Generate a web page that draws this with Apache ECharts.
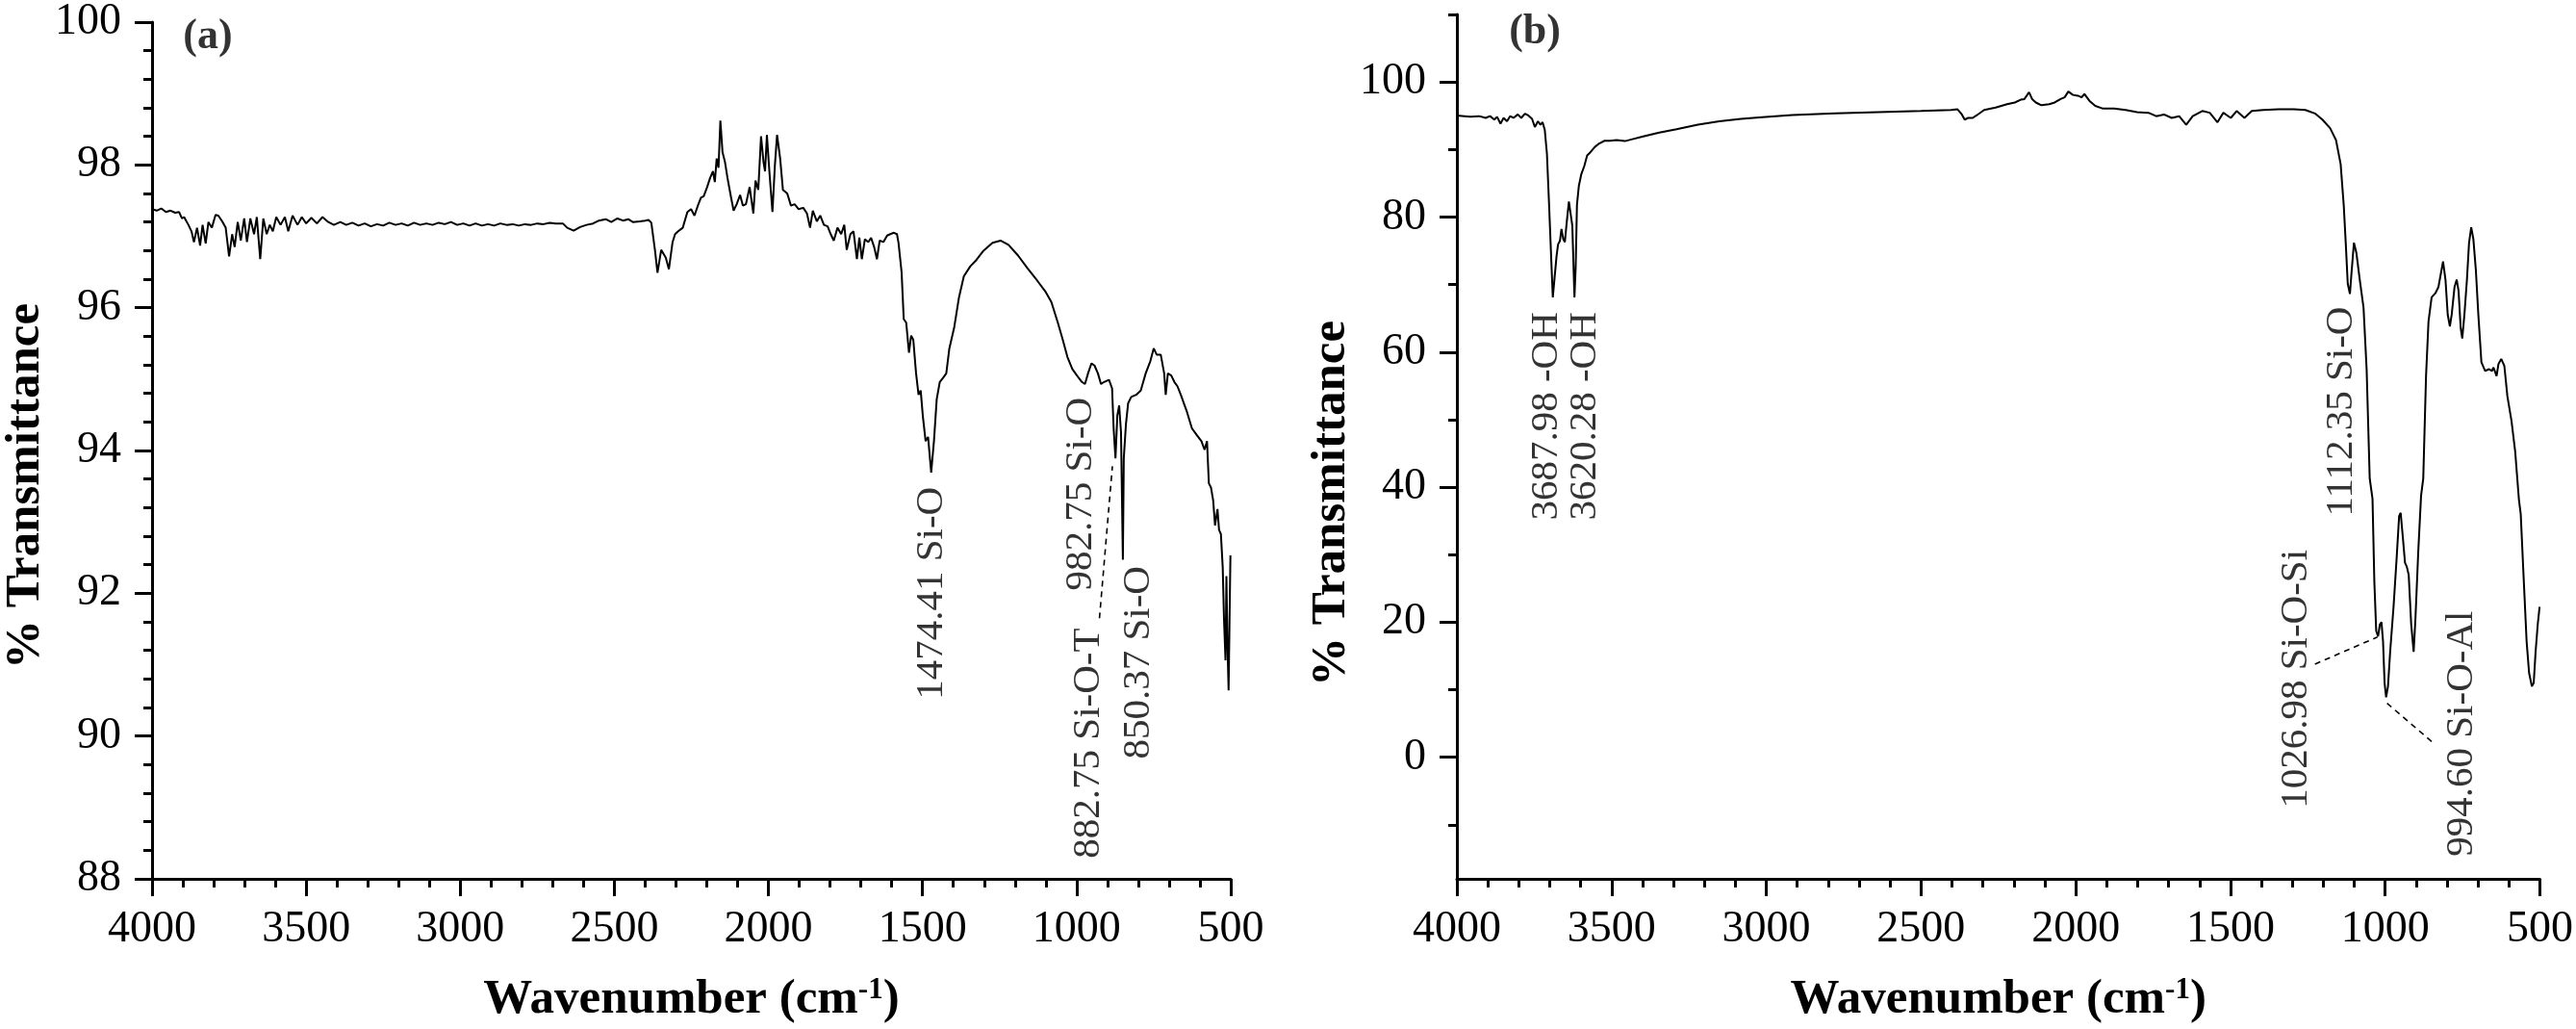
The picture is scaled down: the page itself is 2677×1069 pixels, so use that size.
<!DOCTYPE html>
<html><head><meta charset="utf-8">
<script src="https://cdn.jsdelivr.net/npm/echarts@6/dist/echarts.min.js"></script>
<style>html,body{margin:0;padding:0;background:#fff}#c{width:2677px;height:1069px}</style>
</head><body><div id="c"></div>
<script>
// ---------- Panel (a) spectrum ----------
const waveA = [4000,3985,3970,3955,3940,3925,3912,3903,3896,3882,3872,3864,3854,3844,3836,3826,3817,3806,3794,3785,3771,3761,3750,3740,3732,3722,3712,3701,3692,3681,3669,3660,3649,3639,3628,3618,3608,3597,3583,3569,3558,3544,3528,3514,3500,3483,3465,3447,3428,3410,3389,3370,3350,3330,3310,3290,3270,3250,3230,3210,3190,3170,3150,3130,3110,3090,3070,3050,3030,3010,2990,2970,2950,2930,2910,2890,2870,2850,2830,2810,2790,2770,2750,2730,2710,2690,2667,2653,2632,2611,2590,2569,2550,2528,2510,2490,2472,2455,2440,2417,2400,2389,2380,2368,2360,2348,2333,2323,2311,2303,2293,2278,2263,2251,2240,2229,2219,2210,2199,2189,2180,2174,2168,2162,2156,2149,2141,2133,2122,2113,2103,2092,2083,2073,2061,2049,2042,2033,2024,2016,2011,2005,1997,1987,1979,1972,1962,1953,1939,1927,1915,1902,1887,1875,1865,1856,1843,1832,1820,1808,1798,1788,1776,1764,1754,1746,1734,1724,1713,1705,1697,1687,1676,1667,1657,1648,1639,1627,1615,1605,1593,1583,1578,1568,1561,1553,1544,1537,1530,1521,1513,1506,1499,1490,1482,1472,1463,1454,1444,1433,1423,1413,1397,1382,1366,1345,1325,1304,1273,1247,1221,1190,1159,1128,1102,1082,1061,1045,1030,1014,999,983,973,963,952,942,931,921,911,895,885,880,874,868,862,856,850,847,840,833,823,807,792,776,761,750,740,727,716,711,704,693,683,673,662,652,642,626,611,595,585,577,571,564,557,551,543,538,532,526,522,517,514,511,507,504,501];
const transA = [97.38,97.36,97.39,97.34,97.36,97.33,97.34,97.25,97.27,97.16,97.07,96.92,97.12,96.87,97.16,96.90,97.20,97.12,97.30,97.29,97.20,97.12,96.72,97.03,96.85,97.20,96.94,97.25,96.92,97.25,97.03,97.27,96.68,97.25,97.03,97.16,97.07,97.27,97.16,97.27,97.07,97.29,97.16,97.27,97.18,97.26,97.18,97.27,97.20,97.16,97.20,97.16,97.19,97.15,97.18,97.14,97.17,97.15,97.19,97.16,97.18,97.15,97.19,97.16,97.18,97.16,97.19,97.17,97.20,97.16,97.18,97.15,97.18,97.15,97.17,97.15,97.18,97.16,97.17,97.15,97.17,97.16,97.18,97.17,97.19,97.18,97.18,97.12,97.08,97.13,97.16,97.18,97.22,97.24,97.20,97.25,97.22,97.24,97.20,97.21,97.22,97.23,97.19,96.80,96.49,96.81,96.70,96.54,96.92,97.03,97.07,97.12,97.34,97.38,97.29,97.43,97.54,97.56,97.69,97.82,97.91,97.76,98.09,97.96,98.62,98.18,98.04,97.82,97.56,97.36,97.45,97.58,97.43,97.45,97.69,97.32,97.78,97.65,98.40,98.04,97.91,98.42,97.91,97.34,98.00,98.42,98.09,97.65,97.60,97.43,97.45,97.38,97.40,97.32,97.12,97.36,97.21,97.29,97.16,97.14,97.03,96.94,97.12,97.03,97.16,96.81,97.03,97.07,96.68,96.98,96.68,96.96,96.92,96.98,96.85,96.68,96.94,96.92,97.01,97.03,97.05,97.03,96.91,96.50,95.84,95.79,95.37,95.61,95.55,95.08,94.78,94.84,94.48,94.13,94.19,93.69,94.13,94.72,94.96,95.02,95.08,95.43,95.73,96.14,96.44,96.58,96.67,96.79,96.91,96.94,96.88,96.73,96.55,96.38,96.23,96.08,95.79,95.55,95.31,95.14,95.05,94.96,94.93,95.08,95.22,95.19,95.08,94.93,94.96,94.99,94.87,94.31,93.89,94.49,94.63,94.25,92.47,93.89,94.37,94.66,94.75,94.78,94.84,95.08,95.25,95.43,95.34,95.34,95.08,94.78,95.08,95.05,94.96,94.90,94.78,94.66,94.54,94.31,94.22,94.13,94.01,94.13,93.54,93.48,93.30,92.95,93.18,92.89,92.83,92.36,91.65,91.06,92.24,91.35,90.64,91.60,92.53];

// ---------- Panel (b) spectrum ----------
const waveB = [4000,3976,3956,3928,3907,3893,3879,3870,3859,3849,3838,3828,3817,3803,3792,3780,3769,3757,3748,3738,3730,3723,3716,3709,3702,3695,3690,3684,3678,3673,3667,3662,3656,3651,3645,3638,3633,3627,3623,3620,3616,3612,3606,3598,3588,3579,3568,3554,3540,3523,3505,3484,3457,3436,3401,3346,3290,3221,3152,3082,3013,2916,2777,2639,2500,2403,2382,2368,2359,2348,2333,2321,2296,2259,2222,2197,2178,2166,2151,2141,2129,2111,2086,2068,2049,2036,2024,2009,1993,1981,1972,1956,1937,1912,1876,1839,1802,1765,1740,1715,1690,1666,1643,1622,1591,1567,1542,1523,1499,1480,1455,1431,1394,1344,1295,1258,1227,1203,1178,1159,1144,1134,1127,1121,1114,1109,1101,1093,1082,1070,1060,1050,1041,1035,1029,1023,1017,1012,1007,1002,997,991,984,973,963,955,950,943,936,930,924,916,908,902,893,884,877,868,860,850,838,828,820,813,805,798,791,785,776,769,763,756,751,744,736,729,722,715,707,699,689,677,664,655,650,640,634,625,615,605,592,580,568,562,553,543,535,526,520,514,507,501];
const transB = [95.04,94.94,94.84,94.94,94.68,94.94,94.43,94.84,93.82,94.68,94.18,94.94,94.68,95.19,94.68,95.29,95.04,94.53,93.32,94.18,93.67,94.03,92.91,89.37,81.77,73.67,68.10,71.14,74.18,75.95,76.46,78.23,76.71,76.30,79.24,82.28,82.03,78.73,72.66,68.10,72.66,81.77,84.56,86.33,87.59,89.11,89.62,90.38,90.89,91.29,91.29,91.39,91.24,91.49,91.90,92.51,93.01,93.67,94.18,94.53,94.78,95.09,95.34,95.54,95.70,95.85,95.95,95.19,94.43,94.68,94.68,95.04,95.85,96.20,96.71,96.96,97.37,97.47,98.48,97.47,96.96,96.56,96.71,96.96,97.47,97.72,98.58,98.08,97.97,97.72,98.23,97.22,96.46,96.05,96.05,95.85,95.54,95.44,94.94,95.19,94.68,94.94,93.67,94.94,95.70,95.44,94.03,95.44,94.68,95.70,94.68,95.70,95.85,95.95,95.95,95.85,95.34,94.43,93.16,91.39,87.85,81.77,75.70,70.13,68.61,71.65,76.20,74.68,70.63,66.58,57.47,41.27,38.30,25.90,18.70,17.90,19.70,20.00,17.20,11.00,8.90,10.50,15.60,22.30,29.50,35.70,36.20,32.60,28.80,28.20,27.00,19.70,15.60,20.80,30.60,38.80,41.27,56.46,64.56,68.10,68.71,69.62,71.65,73.42,70.63,65.57,63.80,65.57,69.62,70.73,69.11,63.54,62.03,65.57,70.63,76.20,78.48,76.71,72.15,65.57,58.48,57.22,57.47,57.22,57.72,56.46,58.23,58.99,57.97,53.42,49.87,45.32,38.23,36.00,27.00,17.20,12.50,10.50,11.00,15.60,19.70,22.30];

// ---------- Axis ticks ----------
const yMajorB = [0,20,40,60,80,100];
const yMinorB = [-10,10,30,50,70,90,110];

// ---------- Peak annotations ----------
const annAWave = [1471, 985, 960, 798];
const annATrans = [92.0, 93.39, 89.9, 91.03];
const annAText = ['1474.41 Si-O', '982.75 Si-O', '882.75 Si-O-T', '850.37 Si-O'];
const annBWave = [3709, 3586, 1140, 1289, 753];
const annBTrans = [50.5, 50.5, 51.2, 11.6, 3.5];
const annBText = ['3687.98 -OH', '3620.28 -OH', '1112.35 Si-O', '1026.98 Si-O-Si', '994.60 Si-O-Al'];
const leaderA = [[926, 91.65], [884, 93.78]];
const leaderB1 = [[1227, 13.8], [1025, 17.8]];
const leaderB2 = [[994, 8.0], [844, 2.1]];
const panelTags = ['(a)', '(b)'];
const panelTagPos = [[3819, 99.79], [3748, 107.3]];

const FONT = 'Liberation Serif';
const BLACK = '#000';
const pairs = (xs, ys) => xs.map((x, i) => [x, ys[i]]);
const plain = v => String(v);

function xAxisCfg(g) {
  return {
    gridIndex: g, type: 'value', min: 500, max: 4000, interval: 500, inverse: true,
    name: '{t|Wavenumber (cm}{s|-1}{t|)}', nameLocation: 'middle', nameGap: 100,
    nameTextStyle: { fontFamily: FONT, rich: {
      t: { fontSize: 51, fontWeight: 'bold', fontFamily: FONT, color: BLACK },
      s: { fontSize: 31, fontWeight: 'bold', fontFamily: FONT, color: BLACK, verticalAlign: 'top' }
    } },
    axisLine: { show: true, onZero: false, lineStyle: { color: BLACK, width: 3 } },
    axisTick: { show: true, length: 18, lineStyle: { color: BLACK, width: 3 } },
    minorTick: { show: true, splitNumber: 5, length: 9, lineStyle: { color: BLACK, width: 3 } },
    axisLabel: { fontSize: 46, color: BLACK, fontFamily: FONT, margin: 30, formatter: plain, showMinLabel: true, showMaxLabel: true },
    splitLine: { show: false }, minorSplitLine: { show: false }
  };
}
const yNameStyle = (shift) => ({ fontSize: 51, fontWeight: 'bold', fontFamily: FONT, color: BLACK, padding: [0, shift, 0, 0] });

const chart = echarts.init(document.getElementById('c'), null, { renderer: 'canvas' });

function annSeries(xi, yi, ws, ts, texts) {
  return {
    type: 'scatter', xAxisIndex: xi, yAxisIndex: yi, silent: true, symbolSize: 1,
    itemStyle: { color: 'rgba(0,0,0,0)' }, z: 5,
    data: ws.map((w, i) => [w, ts[i], texts[i]]),
    label: { show: true, position: 'inside', rotate: 90, formatter: p => p.data[2],
      fontSize: 41, fontFamily: FONT, color: BLACK, align: 'center', verticalAlign: 'middle' },
    emphasis: { disabled: true }
  };
}
function tagSeries(xi, yi, k) {
  return {
    type: 'scatter', xAxisIndex: xi, yAxisIndex: yi, silent: true, symbolSize: 1,
    itemStyle: { color: 'rgba(0,0,0,0)' }, z: 5,
    data: [[panelTagPos[k][0], panelTagPos[k][1], panelTags[k]]],
    label: { show: true, position: 'inside', formatter: p => p.data[2],
      fontSize: 44, fontWeight: 'bold', fontFamily: FONT, color: BLACK, align: 'center', verticalAlign: 'middle' },
    emphasis: { disabled: true }
  };
}
function leader(xi, yi, pts) {
  return { type: 'line', xAxisIndex: xi, yAxisIndex: yi, silent: true, showSymbol: false, symbol: 'none',
    data: pts, lineStyle: { color: BLACK, width: 1.6, type: [6, 5] }, z: 4 };
}

chart.setOption({
  animation: false,
  backgroundColor: '#fff',
  textStyle: { fontFamily: FONT },
  grid: [
    { left: 152, top: 15, width: 1127, height: 905, containLabel: false },
    { left: 1514, top: 15, width: 1127, height: 905, containLabel: false }
  ],
  xAxis: [xAxisCfg(0), xAxisCfg(1)],
  yAxis: [
    { gridIndex: 0, type: 'value', position: 'left', min: 88, max: 100, interval: 2,
      name: '% Transmittance', nameLocation: 'middle', nameRotate: 90, nameGap: 106, nameTextStyle: yNameStyle(74),
      axisLine: { show: true, onZero: false, lineStyle: { color: BLACK, width: 3 } },
      axisTick: { show: true, length: 18, lineStyle: { color: BLACK, width: 3 } },
      minorTick: { show: true, splitNumber: 5, length: 9, lineStyle: { color: BLACK, width: 3 } },
      axisLabel: { fontSize: 46, color: BLACK, fontFamily: FONT, margin: 32, formatter: plain, showMinLabel: true, showMaxLabel: true },
      splitLine: { show: false }, minorSplitLine: { show: false } },
    { gridIndex: 1, type: 'value', position: 'left', min: -18, max: 110,
      name: '% Transmittance', nameLocation: 'middle', nameRotate: 90, nameGap: 104, nameTextStyle: yNameStyle(118),
      axisLine: { show: true, onZero: false, lineStyle: { color: BLACK, width: 3 } },
      axisTick: { show: true, length: 18, customValues: yMajorB, lineStyle: { color: BLACK, width: 3 } },
      axisLabel: { fontSize: 46, color: BLACK, fontFamily: FONT, margin: 32, formatter: plain, customValues: yMajorB },
      splitLine: { show: false } },
    { gridIndex: 1, type: 'value', position: 'left', min: -18, max: 110,
      axisLine: { show: false, onZero: false },
      axisTick: { show: true, length: 9, customValues: yMinorB, lineStyle: { color: BLACK, width: 3 } },
      axisLabel: { show: false }, splitLine: { show: false } }
  ],
  series: [
    { type: 'line', xAxisIndex: 0, yAxisIndex: 0, data: pairs(waveA, transA), showSymbol: false, symbol: 'none',
      lineStyle: { color: BLACK, width: 2 }, z: 3 },
    { type: 'line', xAxisIndex: 1, yAxisIndex: 1, data: pairs(waveB, transB), showSymbol: false, symbol: 'none',
      lineStyle: { color: BLACK, width: 2 }, z: 3 },
    annSeries(0, 0, annAWave, annATrans, annAText),
    annSeries(1, 1, annBWave, annBTrans, annBText),
    tagSeries(0, 0, 0),
    tagSeries(1, 1, 1),
    leader(0, 0, leaderA),
    leader(1, 1, leaderB1),
    leader(1, 1, leaderB2)
  ]
});
</script>
</body></html>
